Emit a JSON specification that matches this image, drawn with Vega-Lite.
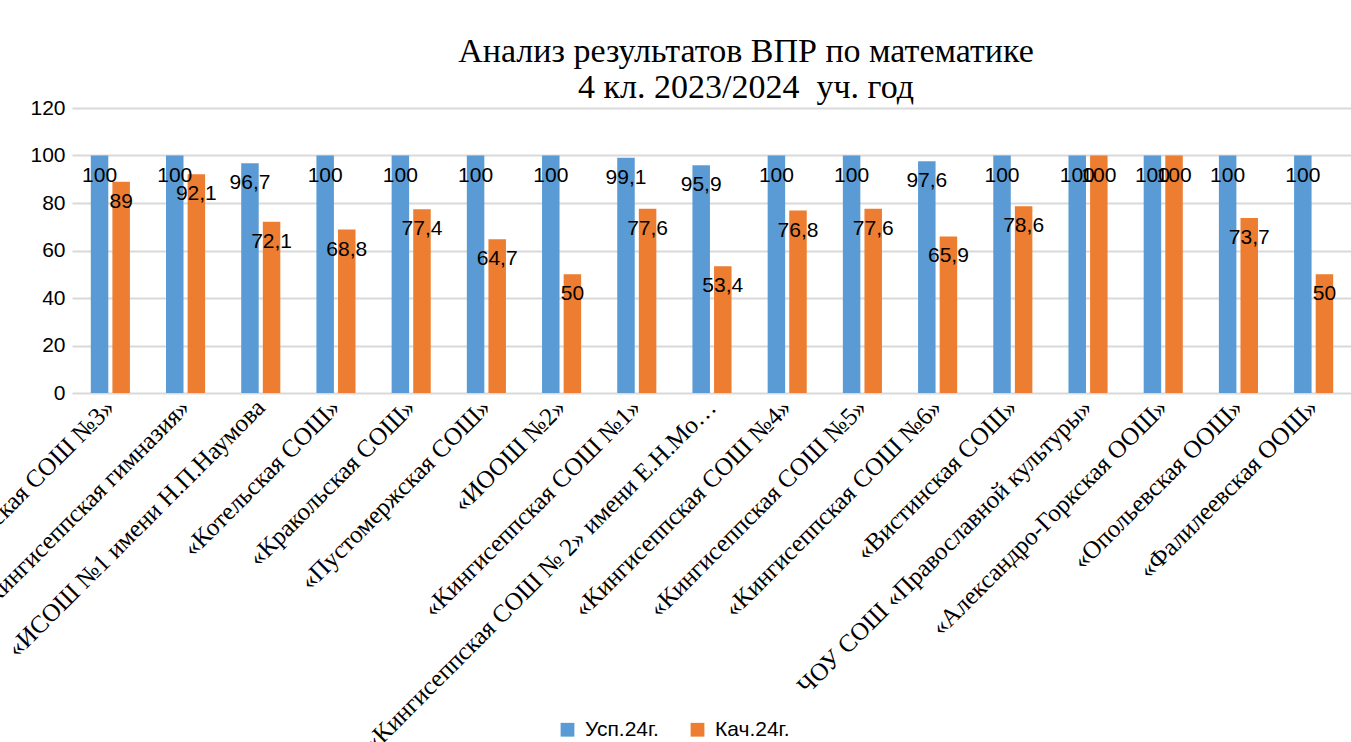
{
  "$schema": "https://vega.github.io/schema/vega-lite/v6.json",
  "autosize": {"type": "none"},
  "width": 1280,
  "height": 285,
  "padding": {"left": 72, "top": 108, "right": 0, "bottom": 349},
  "background": "white",
  "config": {
    "locale": {"number": {"decimal": ",", "thousands": " ", "grouping": [3], "currency": ["", ""]}},
    "view": {"stroke": null}
  },
  "title": {
    "text": ["Анализ результатов ВПР по математике", "4 кл. 2023/2024\u00a0 уч. год"],
    "font": "Liberation Serif",
    "fontSize": 34,
    "fontWeight": "normal",
    "color": "#000000",
    "anchor": "middle",
    "frame": "group",
    "dx": 34,
    "offset": -8,
    "lineHeight": 36
  },
  "data": {
    "values": [
      {"school": "«Кингисеппская СОШ №3»", "series": "Усп.24г.", "value": 100},
      {"school": "«Кингисеппская СОШ №3»", "series": "Кач.24г.", "value": 89},
      {"school": "«Кингисеппская гимназия»", "series": "Усп.24г.", "value": 100},
      {"school": "«Кингисеппская гимназия»", "series": "Кач.24г.", "value": 92.1},
      {"school": "«ИСОШ №1  имени Н.П.Наумова", "series": "Усп.24г.", "value": 96.7},
      {"school": "«ИСОШ №1  имени Н.П.Наумова", "series": "Кач.24г.", "value": 72.1},
      {"school": "«Котельская СОШ»", "series": "Усп.24г.", "value": 100},
      {"school": "«Котельская СОШ»", "series": "Кач.24г.", "value": 68.8},
      {"school": "«Кракольская СОШ»", "series": "Усп.24г.", "value": 100},
      {"school": "«Кракольская СОШ»", "series": "Кач.24г.", "value": 77.4},
      {"school": "«Пустомержская СОШ»", "series": "Усп.24г.", "value": 100},
      {"school": "«Пустомержская СОШ»", "series": "Кач.24г.", "value": 64.7},
      {"school": "«ИООШ №2»", "series": "Усп.24г.", "value": 100},
      {"school": "«ИООШ №2»", "series": "Кач.24г.", "value": 50},
      {"school": "«Кингисеппская СОШ №1»", "series": "Усп.24г.", "value": 99.1},
      {"school": "«Кингисеппская СОШ №1»", "series": "Кач.24г.", "value": 77.6},
      {"school": "«Кингисеппская СОШ № 2» имени Е.Н.Мошкова", "series": "Усп.24г.", "value": 95.9},
      {"school": "«Кингисеппская СОШ № 2» имени Е.Н.Мошкова", "series": "Кач.24г.", "value": 53.4},
      {"school": "«Кингисеппская СОШ №4»", "series": "Усп.24г.", "value": 100},
      {"school": "«Кингисеппская СОШ №4»", "series": "Кач.24г.", "value": 76.8},
      {"school": "«Кингисеппская СОШ №5»", "series": "Усп.24г.", "value": 100},
      {"school": "«Кингисеппская СОШ №5»", "series": "Кач.24г.", "value": 77.6},
      {"school": "«Кингисеппская СОШ №6»", "series": "Усп.24г.", "value": 97.6},
      {"school": "«Кингисеппская СОШ №6»", "series": "Кач.24г.", "value": 65.9},
      {"school": "«Вистинская СОШ»", "series": "Усп.24г.", "value": 100},
      {"school": "«Вистинская СОШ»", "series": "Кач.24г.", "value": 78.6},
      {"school": "ЧОУ СОШ «Православной культуры»", "series": "Усп.24г.", "value": 100},
      {"school": "ЧОУ СОШ «Православной культуры»", "series": "Кач.24г.", "value": 100},
      {"school": "«Александро-Горкская ООШ»", "series": "Усп.24г.", "value": 100},
      {"school": "«Александро-Горкская ООШ»", "series": "Кач.24г.", "value": 100},
      {"school": "«Опольевская ООШ»", "series": "Усп.24г.", "value": 100},
      {"school": "«Опольевская ООШ»", "series": "Кач.24г.", "value": 73.7},
      {"school": "«Фалилеевская ООШ»", "series": "Усп.24г.", "value": 100},
      {"school": "«Фалилеевская ООШ»", "series": "Кач.24г.", "value": 50}
    ]
  },
  "encoding": {
    "x": {
      "field": "school",
      "type": "nominal",
      "sort": null,
      "scale": {"paddingInner": 0.48, "paddingOuter": 0.25},
      "axis": {
        "title": null,
        "labelAngle": -45,
        "labelAlign": "right",
        "labelBaseline": "middle",
        "labelFont": "Liberation Serif",
        "labelFontSize": 25,
        "labelColor": "#000000",
        "labelPadding": 10,
        "labelLimit": 505,
        "labelOverlap": false,
        "ticks": false,
        "domain": false
      }
    },
    "xOffset": {
      "field": "series",
      "sort": ["Усп.24г.", "Кач.24г."],
      "scale": {"paddingInner": 0.19}
    },
    "y": {
      "field": "value",
      "type": "quantitative",
      "scale": {"domain": [0, 120]},
      "axis": {
        "title": null,
        "values": [0, 20, 40, 60, 80, 100, 120],
        "labelFont": "Liberation Sans",
        "labelFontSize": 21,
        "labelColor": "#000000",
        "labelPadding": 7,
        "ticks": false,
        "domain": false,
        "gridColor": "#d9d9d9",
        "gridWidth": 2
      }
    }
  },
  "layer": [
    {
      "mark": {"type": "bar"},
      "encoding": {
        "color": {
          "field": "series",
          "type": "nominal",
          "sort": ["Усп.24г.", "Кач.24г."],
          "scale": {"domain": ["Усп.24г.", "Кач.24г."], "range": ["#5B9BD5", "#ED7D31"]},
          "legend": {
            "title": null,
            "orient": "none",
            "direction": "horizontal",
            "legendX": 485,
            "legendY": 611,
            "symbolType": "square",
            "symbolSize": 190,
            "symbolStrokeWidth": 0,
            "labelFont": "Liberation Sans",
            "labelFontSize": 21,
            "labelColor": "#000000",
            "labelOffset": 7,
            "columnPadding": 28
          }
        }
      }
    },
    {
      "mark": {"type": "text", "dy": 20, "font": "Liberation Sans", "fontSize": 21, "color": "#000000"},
      "encoding": {
        "text": {"field": "value", "type": "quantitative", "format": ".1~f"}
      }
    }
  ]
}
